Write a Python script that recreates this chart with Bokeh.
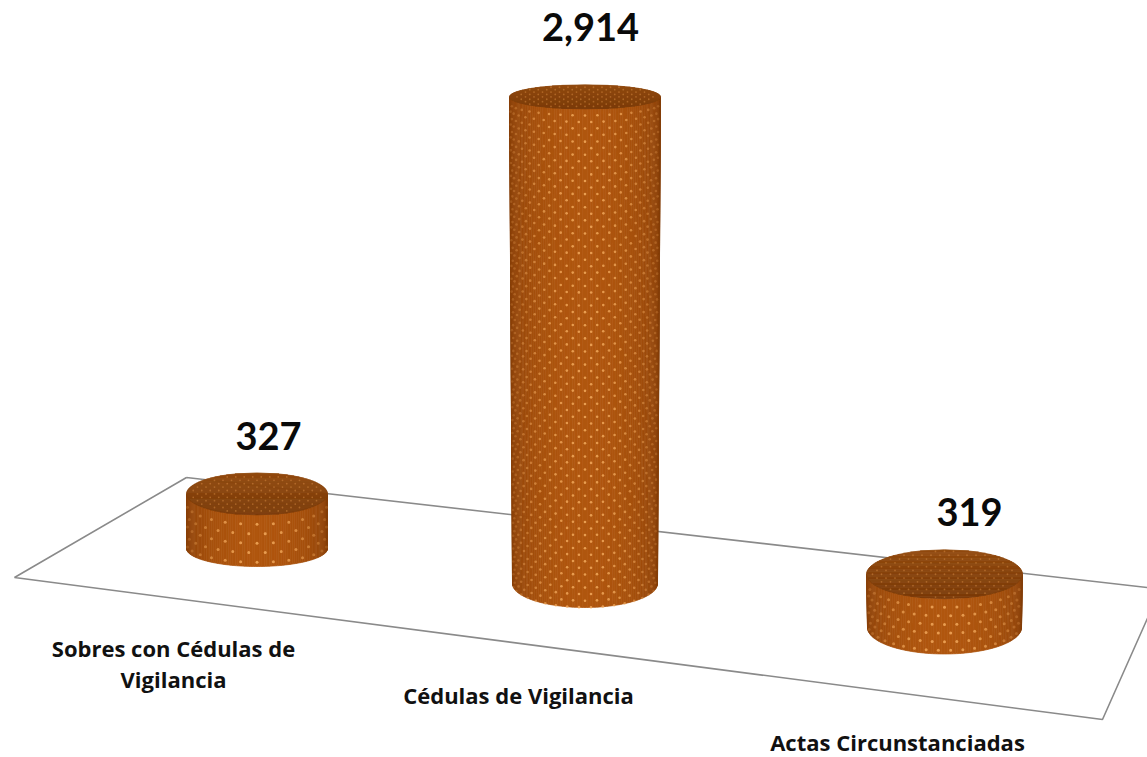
import numpy as np
from bokeh.plotting import figure
from bokeh.models import ColumnDataSource
from bokeh.core.properties import value
from bokeh.embed import file_html
from bokeh.resources import INLINE

categories = ["Sobres con Cédulas de\nVigilancia", "Cédulas de Vigilancia", "Actas Circunstanciadas"]
values = [327, 2914, 319]

# layout (page pixels)
PX_PER_UNIT = 0.167
bases = [548, 583, 627]
centers_x = [256.5, 584.5, 944]
rx_top = [70.5, 75.5, 78]
rx_bot = [70.5, 72.5, 77]
ry_top = [21, 12, 24.5]
ry_bot = [18, 24, 26.5]
dot_dx = [16.5, 12.5, 12.5]
dot_dy = [10, 6.4, 8.3]
top_dx = [8.5, 8.5, 9]
top_dy = [3.4, 2.4, 3.8]
dot_size = [3.0, 2.6, 3.0]
label_pos = [(268, 435), (590, 26), (969, 511)]
cat_pos = [(173, 647), (518, 694), (897, 741)]
plane_x = [186, 14, 1102, 1160, 186]
plane_y = [477, 577, 719, 588.5, 477]

FONT = value("Open Sans")
NUM_FONT = value("Lato")


def mix(a, b, t):
    c = [int(round(a[i] + (b[i] - a[i]) * t)) for i in range(3)]
    return "#%02x%02x%02x" % tuple(c)


p = figure(width=1147, height=757, x_range=(0, 1147), y_range=(757, 0),
           toolbar_location=None, output_backend="svg", min_border=0)
p.axis.visible = False
p.grid.visible = False
p.outline_line_color = None
p.background_fill_color = "white"
p.border_fill_color = "white"

p.line(plane_x, plane_y, line_color="#8a8a8a", line_width=1.6)

EDGE = (130, 60, 8)
MID = (176, 86, 14)
TOP_BACK = (146, 74, 14)
TOP_FRONT = (122, 58, 8)

for i, v in enumerate(values):
    h = v * PX_PER_UNIT
    bot, top = bases[i], bases[i] - h
    cx = centers_x[i]

    # cylinder wall, drawn as narrow shaded strips
    th = np.linspace(np.pi, 0, 91)
    xs, ys, cols = [], [], []
    for a, b in zip(th[:-1], th[1:]):
        m = (a + b) / 2
        xs.append([cx + rx_top[i] * np.cos(a), cx + rx_top[i] * np.cos(b),
                   cx + rx_bot[i] * np.cos(b), cx + rx_bot[i] * np.cos(a)])
        ys.append([top + ry_top[i] * np.sin(a), top + ry_top[i] * np.sin(b),
                   bot + ry_bot[i] * np.sin(b), bot + ry_bot[i] * np.sin(a)])
        cols.append(mix(EDGE, MID, np.sin(m) ** 0.9))
    p.patches(xs, ys, fill_color=cols, line_color=cols, line_width=0.7)

    # wall dots on a staggered lattice wrapped round the cylinder
    dx, dy = [], []
    dc, da = [], []
    nrow = int(h / dot_dy[i]) + 1
    dth = dot_dx[i] / rx_top[i]
    for r in range(1, nrow):
        off = r * dot_dy[i]
        f = off / h
        rxx = rx_top[i] + (rx_bot[i] - rx_top[i]) * f
        ryy = ry_top[i] + (ry_bot[i] - ry_top[i]) * f
        shift = 0 if r % 2 else dth / 2
        for k in range(-8, 9):
            t = np.pi / 2 + k * dth + shift
            if t <= 0.08 or t >= np.pi - 0.08:
                continue
            dx.append(cx + rxx * np.cos(t))
            dy.append(top + off + ryy * np.sin(t))
            dc.append("#f2a95c")
            da.append(0.2 + 0.65 * np.sin(t) ** 2)
    p.scatter(dx, dy, size=dot_size[i], marker="circle", fill_color=dc,
              fill_alpha=da, line_color=None)

    # top face, shaded front to back
    vv = np.linspace(-1, 1, 41)
    xs, ys, cols = [], [], []
    for a, b in zip(vv[:-1], vv[1:]):
        wa, wb = np.sqrt(max(0, 1 - a * a)), np.sqrt(max(0, 1 - b * b))
        xs.append([cx - rx_top[i] * wa, cx + rx_top[i] * wa, cx + rx_top[i] * wb, cx - rx_top[i] * wb])
        ys.append([top + ry_top[i] * a, top + ry_top[i] * a, top + ry_top[i] * b, top + ry_top[i] * b])
        cols.append(mix(TOP_BACK, TOP_FRONT, (a + 1) / 2))
    p.patches(xs, ys, fill_color=cols, line_color=cols, line_width=0.7)

    # top face dots
    tx, ty = [], []
    nr = int(ry_top[i] / top_dy[i])
    nc = int(rx_top[i] / top_dx[i]) + 1
    for r in range(-nr, nr + 1):
        for c in range(-nc, nc + 1):
            u = (c + (0.5 if r % 2 else 0)) * top_dx[i] / rx_top[i]
            w = r * top_dy[i] / ry_top[i]
            if u * u + w * w < 0.9:
                tx.append(cx + rx_top[i] * u)
                ty.append(top + ry_top[i] * w)
    p.scatter(tx, ty, size=1.8, marker="circle", fill_color="#d68a42",
              fill_alpha=0.5, line_color=None)

# value labels
src = ColumnDataSource(dict(x=[q[0] for q in label_pos], y=[q[1] for q in label_pos],
                            t=[f"{v:,}" for v in values]))
p.text("x", "y", text="t", source=src, text_font=NUM_FONT, text_font_style="bold",
       text_font_size="38px", text_color="#0a0a0a", text_align="center", text_baseline="alphabetic")

# category labels
lx, ly, lt = [], [], []
for c, (x, y) in zip(categories, cat_pos):
    for j, line in enumerate(c.split("\n")):
        lx.append(x)
        ly.append(y + j * 31)
        lt.append(line)
p.text(lx, ly, text=lt, text_font=FONT, text_font_style="bold", text_font_size="22px",
       text_color="#111111", text_align="center", text_baseline="alphabetic")

open("out.html", "w").write(file_html(p, INLINE))
